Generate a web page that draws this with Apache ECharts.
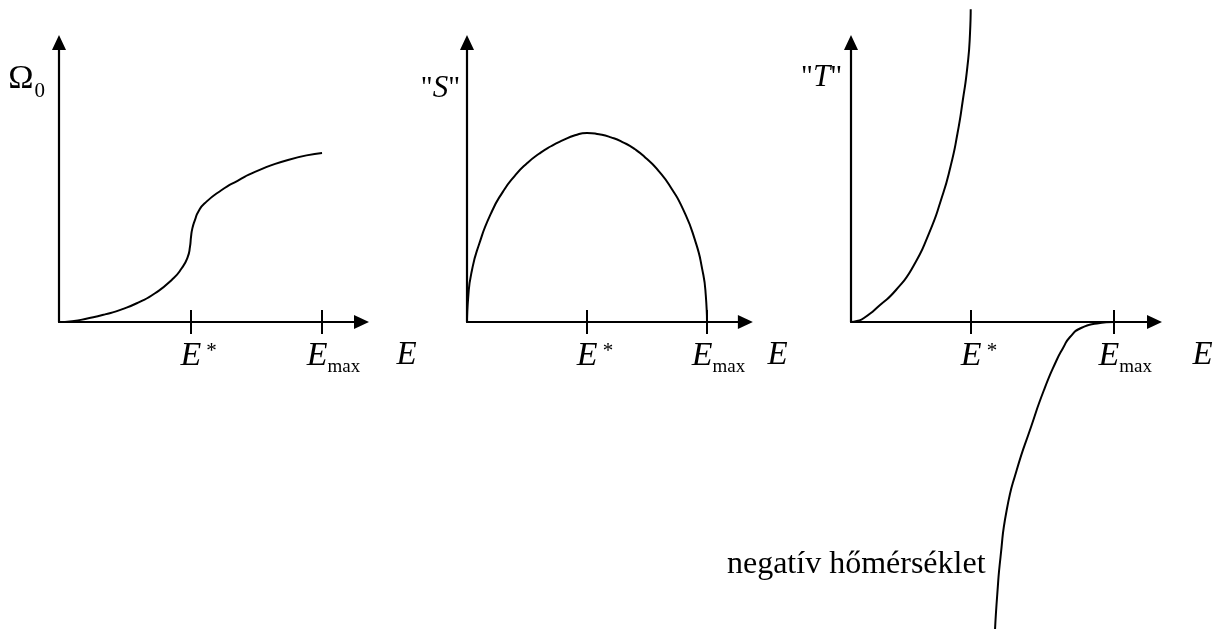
<!DOCTYPE html>
<html>
<head>
<meta charset="utf-8">
<script src="https://cdn.jsdelivr.net/npm/echarts@6/dist/echarts.min.js"></script>
<style>
  html, body { margin: 0; padding: 0; background: #fff; }
  #chart { width: 1217px; height: 632px; }
</style>
</head>
<body>
<div id="chart"></div>
<script>
// Energy is measured in units of E* in every panel.

// Number of microstates Omega_0(E)
const omegaCurve = [
  [0, 0], [0.1, 0.005], [0.223, 0.022], [0.35, 0.045], [0.477, 0.075],
  [0.61, 0.118], [0.73, 0.17], [0.857, 0.249], [0.933, 0.318],
  [0.979, 0.386], [0.996, 0.446], [1.004, 0.505], [1.014, 0.554],
  [1.034, 0.604], [1.059, 0.653], [1.11, 0.704], [1.237, 0.781],
  [1.361, 0.837], [1.49, 0.888], [1.741, 0.959], [2.0, 1.0]
];

// Entropy "S"(E)
const entropyCurve = [
  [0, 0], [0.01, 0.13], [0.04, 0.27], [0.1, 0.41], [0.2, 0.575],
  [0.3, 0.69], [0.4, 0.775], [0.5, 0.84], [0.6, 0.89], [0.7, 0.93],
  [0.8, 0.962], [0.9, 0.988], [1.0, 1.0], [1.1, 0.993], [1.2, 0.977],
  [1.3, 0.951], [1.4, 0.914], [1.5, 0.862], [1.6, 0.797], [1.7, 0.71],
  [1.8, 0.597], [1.9, 0.433], [1.96, 0.28], [1.99, 0.14], [2.0, 0]
];

// Temperature "T"(E): positive branch below E*, negative branch up to E_max
const tempPositive = [
  [0, 0], [0.05, 0.01], [0.108, 0.04], [0.242, 0.17], [0.375, 0.32],
  [0.517, 0.553], [0.65, 0.887], [0.75, 1.22], [0.829, 1.553],
  [0.8875, 1.887], [0.932, 2.22], [0.97, 2.553], [0.9917, 2.887],
  [0.9975, 3.127]
];
const tempNegative = [
  [1.2, -3.08], [1.219, -2.72], [1.246, -2.35], [1.2975, -1.88],
  [1.381, -1.48], [1.5, -1.05], [1.608, -0.68], [1.714, -0.38],
  [1.767, -0.26], [1.825, -0.15], [1.917, -0.06], [2.05, -0.015],
  [2.19, 0]
];

// Tick positions (E*, E_max) for each panel
const omegaTicks = [1, 2];
const entropyTicks = [1, 2];
const tempTicks = [1, 2.19];

// Tick label text: main symbol and its script
const tickMain = ['E', 'E'];
const tickScript = ['*', 'max'];
const tickScriptKind = ['sup', 'sub'];

const axisNameX = 'E';
const negativeNote = 'negatív hőmérséklet';
const negativeNoteAt = 2; // index in tempNegative

const FONT = '"Liberation Serif", "Times New Roman", serif';
const INK = '#000';

const richTick = {
  e:    { fontFamily: FONT, fontStyle: 'italic', fontSize: 34, lineHeight: 34, color: INK, verticalAlign: 'top' },
  sup:  { fontFamily: FONT, fontSize: 21, lineHeight: 21, color: INK, verticalAlign: 'top', padding: [2, 0, 0, 5] },
  sub:  { fontFamily: FONT, fontSize: 19, lineHeight: 19, color: INK, verticalAlign: 'top', padding: [19, 0, 0, 0] },
  padsup: { width: 16, fontSize: 19, lineHeight: 19, verticalAlign: 'top' },
  padsub: { width: 23, fontSize: 19, lineHeight: 19, verticalAlign: 'top' }
};

const richName = {
  q:  { fontFamily: FONT, fontSize: 29, lineHeight: 30, color: INK, verticalAlign: 'top' },
  v:  { fontFamily: FONT, fontStyle: 'italic', fontSize: 31, lineHeight: 30, color: INK, verticalAlign: 'top' },
  o:  { fontFamily: FONT, fontSize: 34, lineHeight: 34, color: INK, verticalAlign: 'top' },
  s:  { fontFamily: FONT, fontSize: 21, lineHeight: 21, color: INK, verticalAlign: 'top', padding: [19, 0, 0, 1] }
};

function tickFormatter(ticks) {
  return function (v) {
    let i = 0, best = Infinity;
    ticks.forEach(function (t, k) { if (Math.abs(t - v) < best) { best = Math.abs(t - v); i = k; } });
    const kind = tickScriptKind[i];
    return '{pad' + kind + '| }{e|' + tickMain[i] + '}{' + kind + '|' + tickScript[i] + '}';
  };
}

const panels = [
  { left: 59,  width: 302.5, xMax: 2.3,   yMax: 1.654, ticks: omegaTicks,   nameGap: 35,
    yName: '{o|Ω}{s|0}', yNameGap: -19.5, yNamePad: 14,
    curves: [omegaCurve] },
  { left: 467, width: 278.4, xMax: 2.32,  yMax: 1.479, ticks: entropyTicks, nameGap: 22,
    yName: '{q|"}{v|S}{q|"}', yNameGap: -31, yNamePad: 7,
    curves: [entropyCurve] },
  { left: 851, width: 303.5, xMax: 2.529, yMax: 2.795, ticks: tempTicks,    nameGap: 38,
    yName: '{q|"}{v|T}{q|"}', yNameGap: -20, yNamePad: 9,
    curves: [tempPositive, tempNegative] }
];

const grid = [], xAxis = [], yAxis = [], series = [];

panels.forEach(function (p, pi) {
  grid.push({ left: p.left, top: 42.5, width: p.width, height: 279.5,
              containLabel: false, outerBoundsMode: 'none' });

  // main energy axis: line, arrow, outer tick halves, labels, name
  xAxis.push({
    type: 'value', gridIndex: pi, min: 0, max: p.xMax, position: 'bottom',
    splitLine: { show: false },
    axisLine: { show: true, onZero: false,
      symbol: ['none', 'triangle'], symbolSize: [14, 15],
      lineStyle: { color: INK, width: 2.2 } },
    axisTick: { show: true, customValues: p.ticks, length: 12, inside: false,
      lineStyle: { color: INK, width: 2 } },
    axisLabel: { show: true, customValues: p.ticks, margin: 17,
      formatter: tickFormatter(p.ticks), rich: richTick, align: 'center', verticalAlign: 'top' },
    name: axisNameX, nameLocation: 'end', nameGap: p.nameGap,
    nameTextStyle: { fontFamily: FONT, fontStyle: 'italic', fontSize: 33, lineHeight: 33,
      color: INK, align: 'left', verticalAlign: 'top', padding: [17, 0, 0, 0] }
  });
  // companion axis: inner tick halves so ticks cross the axis line
  xAxis.push({
    type: 'value', gridIndex: pi, min: 0, max: p.xMax, position: 'bottom',
    splitLine: { show: false },
    axisLine: { show: false, onZero: false },
    axisTick: { show: true, customValues: p.ticks, length: 12, inside: true,
      lineStyle: { color: INK, width: 2 } },
    axisLabel: { show: false }
  });

  yAxis.push({
    type: 'value', gridIndex: pi, min: 0, max: p.yMax,
    splitLine: { show: false },
    axisLine: { show: true, symbol: ['none', 'triangle'], symbolSize: [14, 15],
      lineStyle: { color: INK, width: 2.2 } },
    axisTick: { show: false },
    axisLabel: { show: false },
    name: p.yName, nameLocation: 'end', nameGap: p.yNameGap,
    nameTextStyle: { rich: richName, align: 'right', verticalAlign: 'top',
      padding: [0, p.yNamePad, 0, 0] }
  });

  p.curves.forEach(function (curve) {
    const isNeg = curve === tempNegative;
    const data = curve.map(function (pt, k) {
      if (isNeg && k === negativeNoteAt) {
        return { value: pt, label: { show: true, position: 'left', distance: 15,
          offset: [0, 8], formatter: negativeNote, fontFamily: FONT, fontSize: 32, color: INK } };
      }
      return pt;
    });
    series.push({
      type: 'line', xAxisIndex: pi * 2, yAxisIndex: pi,
      data: data, smooth: 0.6,
      clip: false, showSymbol: isNeg, symbol: 'circle', symbolSize: 0,
      lineStyle: { color: INK, width: 2 }, itemStyle: { color: INK },
      label: { show: false }, emphasis: { disabled: true }, silent: true
    });
  });
});

const chart = echarts.init(document.getElementById('chart'), null, { renderer: 'canvas' });
chart.setOption({
  animation: false,
  backgroundColor: '#fff',
  grid: grid, xAxis: xAxis, yAxis: yAxis, series: series,
  tooltip: { show: false }
});
</script>
</body>
</html>
